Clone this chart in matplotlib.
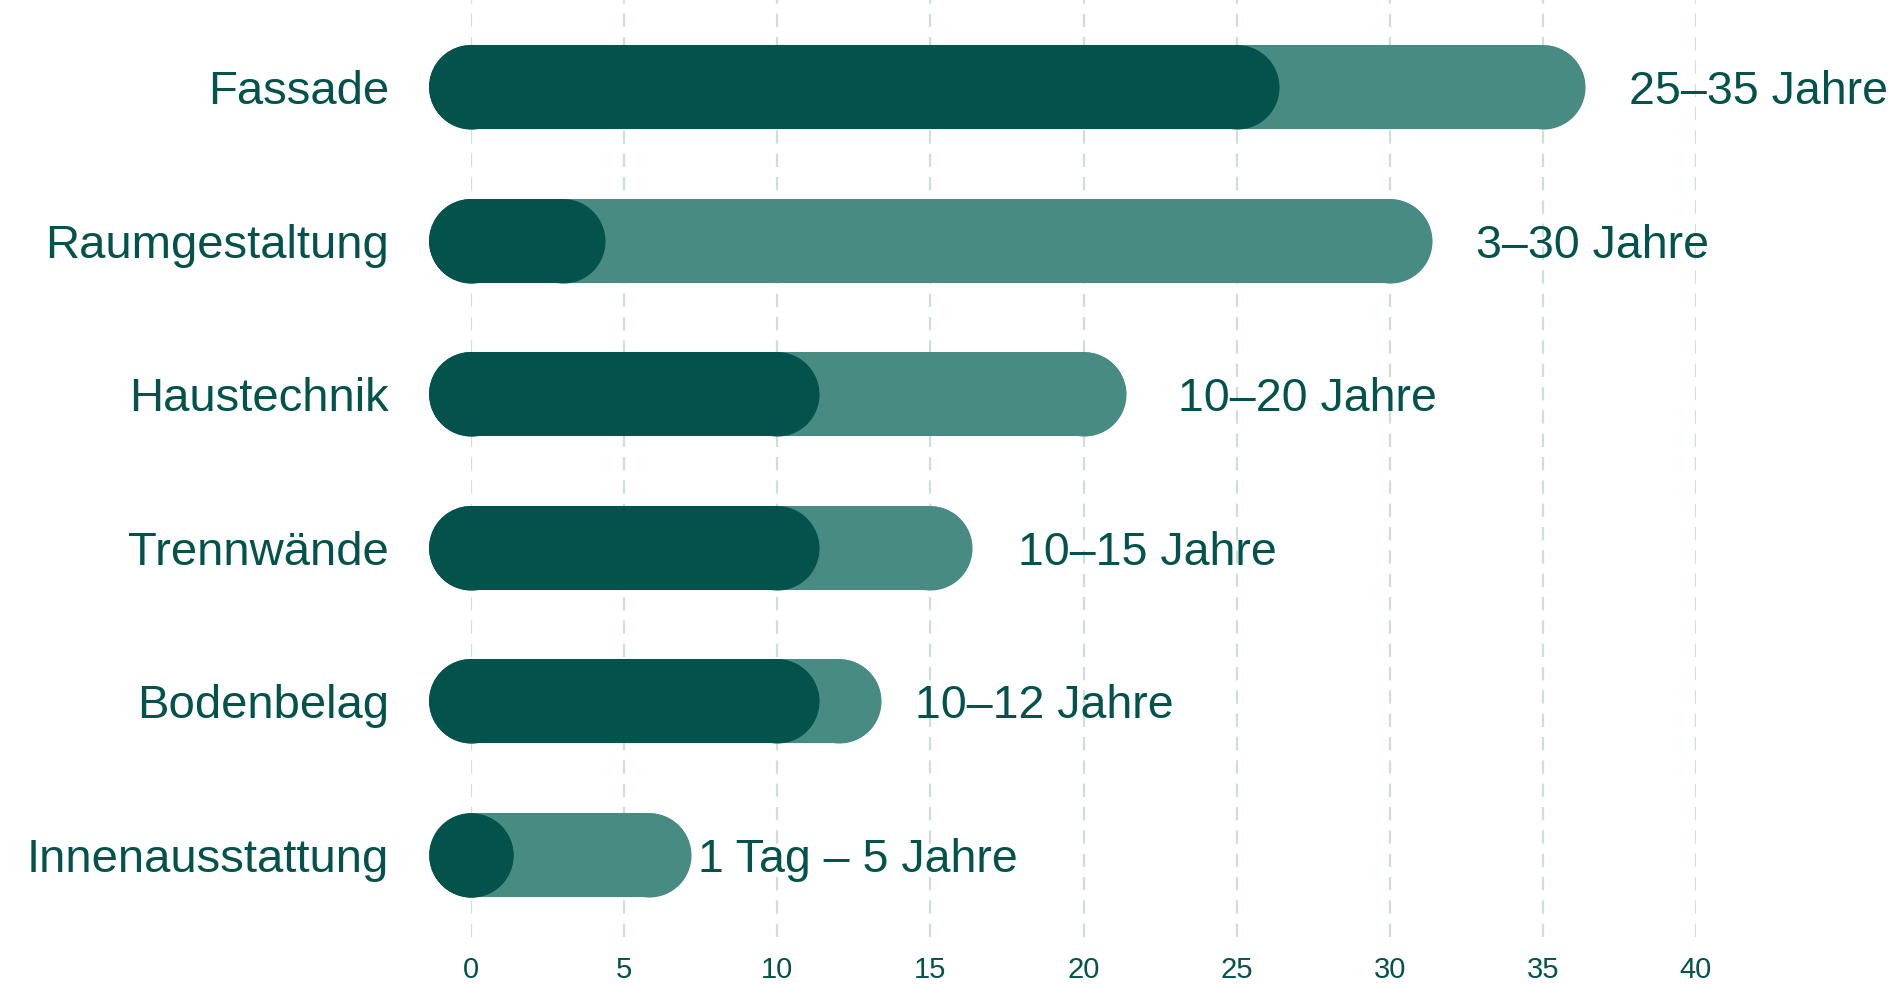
import matplotlib.pyplot as plt

plt.rcParams['font.family'] = ['Liberation Sans', 'DejaVu Sans']

# Nutzungsdauer der Bauteile (Jahre), oben nach unten
categories = ["Fassade", "Raumgestaltung", "Haustechnik", "Trennwände", "Bodenbelag", "Innenausstattung"]
min_years = [25, 3, 10, 10, 10, 1 / 365]
max_years = [35, 30, 20, 15, 12, 5.8]
range_labels = ["25–35 Jahre", "3–30 Jahre", "10–20 Jahre", "10–15 Jahre", "10–12 Jahre", "1 Tag – 5 Jahre"]
label_dx = [2.8, 2.8, 3.1, 2.85, 2.5, 1.6]

dark = '#03524b'
light = '#478b82'
grid_col = '#cde0d5'
bar_w = 60.5  # pt

fig = plt.figure(figsize=(18.96, 9.84), dpi=100)
ax = fig.add_axes([471 / 1896, 1 - 937 / 984, (1696 - 471) / 1896, 937 / 984])

n = len(categories)
ys = list(range(n - 1, -1, -1))

for x in range(0, 41, 5):
    ax.axvline(x, color=grid_col, lw=1.6, ls=(0, (6, 4.5)), zorder=0)

for y, lo, hi in zip(ys, min_years, max_years):
    ax.plot([0, hi], [y, y], color=light, lw=bar_w, solid_capstyle='round',
            marker='o', ms=bar_w, mew=0, clip_on=False, zorder=2)
    ax.plot([0, lo], [y, y], color=dark, lw=bar_w, solid_capstyle='round',
            marker='o', ms=bar_w, mew=0, clip_on=False, zorder=3)

for i, (y, hi, txt) in enumerate(zip(ys, max_years, range_labels)):
    ax.text(hi + label_dx[i], y, txt, color=dark, fontsize=33.5,
            ha='left', va='center_baseline')

ax.set_xlim(0, 40)
ax.set_ylim(-0.534, n - 1 + 0.567)
ax.set_xticks(range(0, 41, 5))
ax.set_yticks(ys)
ax.set_yticklabels(categories)
ax.tick_params(axis='y', length=0, pad=59, labelsize=34, labelcolor=dark)
ax.tick_params(axis='x', length=0, pad=14, labelsize=21, labelcolor=dark)
for s in ax.spines.values():
    s.set_visible(False)

fig.savefig("out.png", dpi=100)
